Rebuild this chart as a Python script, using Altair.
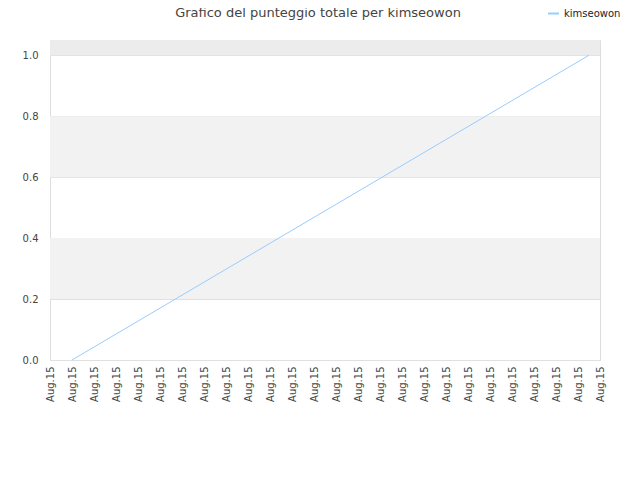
import altair as alt
import pandas as pd

# data
chart_title = ["Grafico del punteggio totale per kimseowon"]
x_pos = [1, 24.5]
scores = [0.0, 1.0]
series = ["kimseowon", "kimseowon"]
tick_positions = list(range(0, 26))
tick_label = "Aug.15"

band_lo = [0.2, 0.6, 1.0]
band_hi = [0.4, 0.8, 1.05]
band_fill = ["#f2f2f2", "#f2f2f2", "#ececec"]

line_df = pd.DataFrame({"x": x_pos, "y": scores, "s": series})
band_df = pd.DataFrame({"lo": band_lo, "hi": band_hi, "fill": band_fill})
title_df = pd.DataFrame({"t": chart_title})

xscale = alt.Scale(domain=[0, 25], nice=False, zero=False)
yscale = alt.Scale(domain=[0, 1.05], nice=False)

bands = alt.Chart(band_df).mark_rect().encode(
    x=alt.value(0),
    x2=alt.value(550),
    y=alt.Y("lo:Q", scale=yscale),
    y2="hi:Q",
    fill=alt.Fill("fill:N", scale=None, legend=None),
)

title_mark = alt.Chart(title_df).mark_text(
    font="DejaVu Sans",
    fontSize=13,
    color="#444",
    align="center",
    baseline="alphabetic",
).encode(
    text="t:N",
    x=alt.value(268),
    y=alt.value(-23),
)

line = alt.Chart(line_df).mark_line(strokeWidth=1).encode(
    x=alt.X(
        "x:Q",
        scale=xscale,
        axis=alt.Axis(
            values=tick_positions,
            labelExpr=f"'{tick_label}'",
            labelAngle=270,
            labelAlign="right",
            labelBaseline="middle",
            labelFont="DejaVu Sans",
            labelFontSize=10,
            labelColor="#444",
            grid=False,
            ticks=False,
            domain=False,
            labelPadding=6,
            title=None,
        ),
    ),
    y=alt.Y(
        "y:Q",
        scale=yscale,
        axis=alt.Axis(
            values=[0, 0.2, 0.4, 0.6, 0.8, 1.0],
            format=".1f",
            labelFont="DejaVu Sans",
            labelFontSize=10,
            labelColor="#444",
            grid=True,
            gridColor="#e0e0e0",
            ticks=False,
            domain=False,
            labelPadding=12,
            title=None,
        ),
    ),
    color=alt.Color(
        "s:N",
        scale=alt.Scale(range=["#99ccff"]),
        legend=alt.Legend(
            title=None,
            orient="none",
            legendX=497,
            legendY=-33,
            symbolType="stroke",
            symbolStrokeWidth=2,
            symbolSize=120,
            labelFont="DejaVu Sans",
            labelFontSize=10,
            labelColor="#222",
        ),
    ),
)

chart = (
    alt.layer(bands, line, title_mark)
    .properties(
        width=550,
        height=320,
        padding={"left": 42, "top": 32, "right": 32, "bottom": 80},
        autosize=alt.AutoSizeParams(type="none"),
    )
    .configure_view(stroke="#dddddd")
)

chart.save("out.html", embed_options={"renderer": "svg", "actions": False})
